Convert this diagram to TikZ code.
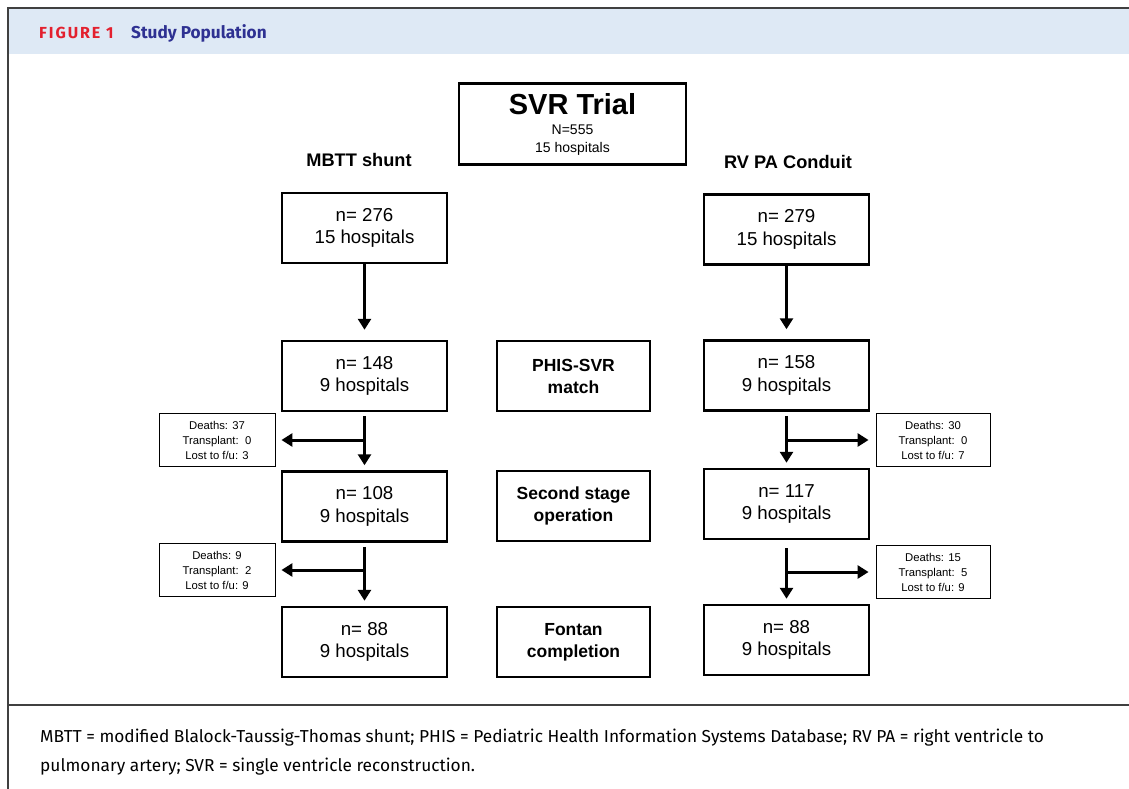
\documentclass[tikz,border=0pt]{standalone}
\usepackage{fontspec}
\setmainfont{Liberation Sans}
\newfontfamily\capfont{Fira Sans}
\newfontfamily\figfont[LetterSpace=12]{Fira Sans}
\usetikzlibrary{arrows.meta}
\definecolor{figred}{HTML}{E3202E}
\definecolor{figblue}{HTML}{2E3192}
\definecolor{headfill}{HTML}{DEE9F5}
\newcommand{\Nh}[2]{n= #1\\#2 hospitals}
\newcommand{\Loss}[3]{Deaths: #1\\Transplant:\ \ #2\\Lost to f/u: #3}

\begin{document}
\begin{tikzpicture}[x=1pt,y=-1pt,
  box/.style={draw, line width=2.5pt, minimum width=165pt, minimum height=70pt,
    inner sep=0pt, align=center, font=\fontsize{18.7}{22.5}\selectfont},
  stagebox/.style={box, minimum width=153pt, font=\bfseries\fontsize{17.5}{22}\selectfont},
  lossbox/.style={draw, line width=0.9pt, minimum width=116pt, minimum height=53pt,
    inner sep=0pt, align=center, font=\fontsize{11.3}{15}\selectfont},
  flow/.style={line width=3pt, -{Triangle[length=11pt,width=13pt]}},
  arm/.style={font=\bfseries\fontsize{18.2}{22}\selectfont}]
\useasboundingbox (0,0) rectangle (1129,789);
\clip (0,0) rectangle (1129,789);

% frame and header
\fill[headfill] (9,9) rectangle (1129,54);
\draw[line width=2pt, black!75] (8,800) -- (8,8) -- (1140,8);
\draw[line width=1.5pt, black!75] (8,705) -- (1140,705);
\node[anchor=west, inner sep=0pt] (fig) at (39,33)
  {\figfont\bfseries\fontsize{16}{18}\selectfont\color{figred}FIGURE 1};
\node[anchor=west, inner sep=0pt] (head) at (131,33)
  {\capfont\bfseries\fontsize{17.2}{20}\selectfont\color{figblue}Study Population};

% trial
\node[box, minimum width=227pt, minimum height=81pt, font=\fontsize{14}{18}\selectfont]
  (trial) at (572.5,124)
  {\bfseries\fontsize{29}{29}\selectfont SVR Trial\\[2pt]N=555\\15 hospitals};
\node[arm] (mbtt) at (359,160) {MBTT shunt};
\node[arm] (rvpa) at (788,162) {RV PA Conduit};

% MBTT arm
\node[box] (L1) at (364.5,228) {\Nh{276}{15}};
\node[box] (L2) at (364.5,376) {\Nh{148}{9}};
\node[box] (L3) at (364.5,506.5) {\Nh{108}{9}};
\node[box] (L4) at (364.5,642) {\Nh{88}{9}};

% stages
\node[stagebox] (M2) at (573.5,376) {PHIS-SVR\\match};
\node[stagebox] (M3) at (573.5,506) {Second stage\\operation};
\node[stagebox] (M4) at (573.5,642) {Fontan\\completion};

% RV PA arm
\node[box] (R1) at (786.5,229.5) {\Nh{279}{15}};
\node[box] (R2) at (786.5,375.5) {\Nh{158}{9}};
\node[box] (R3) at (786.5,504) {\Nh{117}{9}};
\node[box] (R4) at (786.5,640) {\Nh{88}{9}};

% losses
\node[lossbox] (SL1) at (217,440) {\Loss{37}{0}{3}};
\node[lossbox] (SL2) at (217,570) {\Loss{9}{2}{9}};
\node[lossbox, minimum width=114pt] (SR1) at (933,440) {\Loss{30}{0}{7}};
\node[lossbox, minimum width=114pt] (SR2) at (933,572) {\Loss{15}{5}{9}};

\draw[flow, shorten >=10pt] (L1) -- (L2);
\draw[flow, shorten <=4pt, shorten >=5pt] (L2) -- (L3);
\draw[flow, shorten <=4pt, shorten >=5pt] (L3) -- (L4);
\draw[flow, shorten >=6pt] (L2 |- SL1.east) -- (SL1.east);
\draw[flow, shorten >=6pt] (L3 |- SL2.east) -- (SL2.east);

\draw[flow, shorten >=10pt] (R1) -- (R2);
\draw[flow, shorten <=4pt, shorten >=5pt] (R2) -- (R3);
\draw[flow, shorten <=8pt, shorten >=5pt] (R3) -- (R4);
\draw[flow, shorten >=7pt] (R2 |- SR1.west) -- (SR1.west);
\draw[flow, shorten >=7pt] (R3 |- SR2.west) -- (SR2.west);

% caption
\node[anchor=west, inner sep=0pt, align=left, font=\capfont\fontsize{17.3}{29}\selectfont]
  (cap) at (40,752)
  {MBTT = modified Blalock-Taussig-Thomas shunt; PHIS = Pediatric Health Information Systems Database; RV PA = right ventricle to\\
   pulmonary artery; SVR = single ventricle reconstruction.};
\end{tikzpicture}
\end{document}
